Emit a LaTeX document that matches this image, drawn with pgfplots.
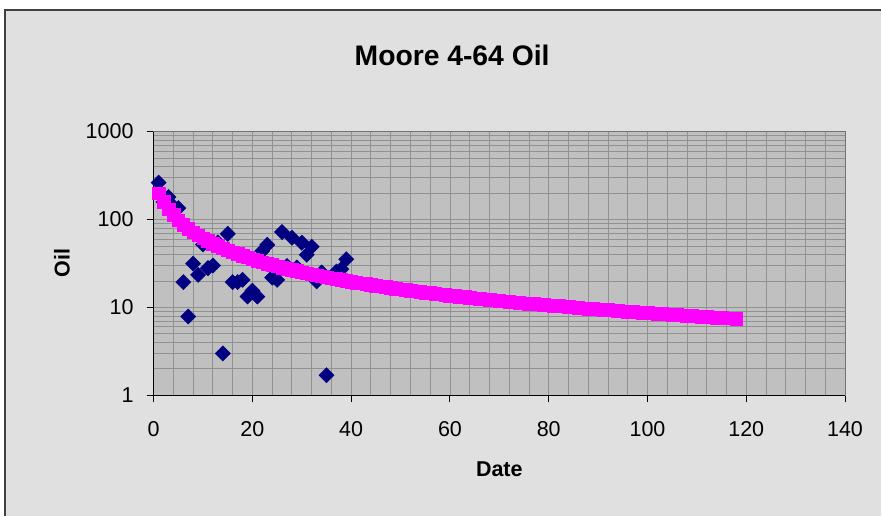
\documentclass[border=0pt]{standalone}
\usepackage{fontspec}
\setmainfont{Liberation Sans}
\usepackage{pgfplots}
\usepackage{pgfplotstable}
\pgfplotsset{compat=1.18}
\definecolor{chartbg}{RGB}{224,224,224}
\definecolor{plotbg}{RGB}{192,192,192}
\definecolor{gridc}{RGB}{145,145,145}
\definecolor{navyd}{RGB}{0,0,128}
\definecolor{mag}{RGB}{255,0,255}
\pgfplotstableread{
x y
1 263
2 158
3 180
4 141
5 135
6 19.4
7 7.9
8 31.5
9 23.5
10 52
11 28
12 30
13 55
14 3.0
15 68.7
16 19.4
17 19.4
18 20.6
19 13.3
20 15.5
21 13.3
22 44
23 51.5
24 21.8
25 20.6
26 72
27 29.5
28 62
29 28.5
30 54.5
31 39.7
32 49
33 19.8
34 25
35 1.69
36 22
37 25.6
38 27.3
39 35.3
}\actual
\pgfplotstableread{
x y
1 200
2 158.4
3 131.5
4 112.6
5 98.6
6 87.8
7 79.2
8 72.1
9 66.3
10 61.3
11 57.1
12 53.4
13 50.2
14 47.4
15 44.9
16 42.6
17 40.6
18 38.7
19 37.1
20 35.5
21 34.1
22 32.8
23 31.6
24 30.5
25 29.5
26 28.5
27 27.6
28 26.8
29 26.0
30 25.2
31 24.5
32 23.9
33 23.2
34 22.7
35 22.1
36 21.6
37 21.1
38 20.6
39 20.1
40 19.7
41 19.2
42 18.8
43 18.5
44 18.1
45 17.7
46 17.4
47 17.1
48 16.8
49 16.4
50 16.2
51 15.9
52 15.6
53 15.3
54 15.1
55 14.8
56 14.6
57 14.4
58 14.2
59 13.9
60 13.7
61 13.5
62 13.3
63 13.2
64 13.0
65 12.8
66 12.6
67 12.4
68 12.3
69 12.1
70 12.0
71 11.8
72 11.7
73 11.5
74 11.4
75 11.2
76 11.1
77 11.0
78 10.9
79 10.7
80 10.6
81 10.5
82 10.4
83 10.3
84 10.2
85 10.05
86 9.94
87 9.84
88 9.74
89 9.64
90 9.54
91 9.45
92 9.36
93 9.26
94 9.17
95 9.09
96 9.00
97 8.92
98 8.83
99 8.75
100 8.67
101 8.60
102 8.52
103 8.44
104 8.37
105 8.30
106 8.23
107 8.16
108 8.09
109 8.02
110 7.96
111 7.89
112 7.83
113 7.76
114 7.70
115 7.64
116 7.58
117 7.52
118 7.46
}\forecast
\begin{document}
\begin{tikzpicture}[x=1bp,y=1bp]
\fill[white] (0,0) rectangle (882,516);
\fill[chartbg] (5,0) rectangle (882,506);
\draw[line width=1.5bp, black!75] (5,0) -- (5,506) -- (882,506);
\begin{axis}[
  at={(153.8bp,120.3bp)}, anchor=south west,
  scale only axis, width=691.9bp, height=264bp,
  xmin=0, xmax=140, ymin=1, ymax=1000, ymode=log,
  axis background/.style={fill=plotbg},
  axis line style={draw=gray!90!black, line width=1bp},
  xtick={0,20,...,140},
  minor x tick num=4,
  ytick={1,10,100,1000},
  yticklabels={1,10,100,1000},
  minor ytick={2,3,4,5,6,7,8,9,20,30,40,50,60,70,80,90,200,300,400,500,600,700,800,900},
  xmajorgrids, xminorgrids, ymajorgrids, yminorgrids,
  grid style={draw=gridc, line width=0.9bp},
  minor grid style={draw=gridc, line width=0.9bp},
  tick align=outside,
  xtick pos=bottom, ytick pos=left,
  major tick length=7bp, minor tick length=0pt,
  tick style={black, line width=1bp},
  /pgf/number format/assume math mode=true,
  ticklabel style={font=\fontsize{21.5bp}{24bp}\selectfont, inner sep=0pt},
  xticklabel style={yshift=-19bp},
  yticklabel style={xshift=-13bp},
  clip=false,
]
\addplot[only marks, mark=square*, mark size=5.4bp, color=navyd,
  mark options={rotate=45, draw=navyd, fill=navyd}] table[x=x,y=y] {\actual};
\addplot[only marks, mark=square*, mark size=6.3bp, color=mag,
  mark options={draw=mag, fill=mag}] table[x=x,y=y] {\forecast};
\draw[black, line width=1.6bp] (rel axis cs:0,1) -- (rel axis cs:0,0) -- (rel axis cs:1,0);
\end{axis}
\node[font=\fontsize{28.3bp}{32bp}\selectfont\bfseries] at (452.5,460.2) {Moore 4-64 Oil};
\node[font=\fontsize{21.5bp}{24bp}\selectfont\bfseries, rotate=90] at (62,253) {Oil};
\node[font=\fontsize{21.5bp}{24bp}\selectfont\bfseries] at (499.7,46) {Date};
\end{tikzpicture}
\end{document}
